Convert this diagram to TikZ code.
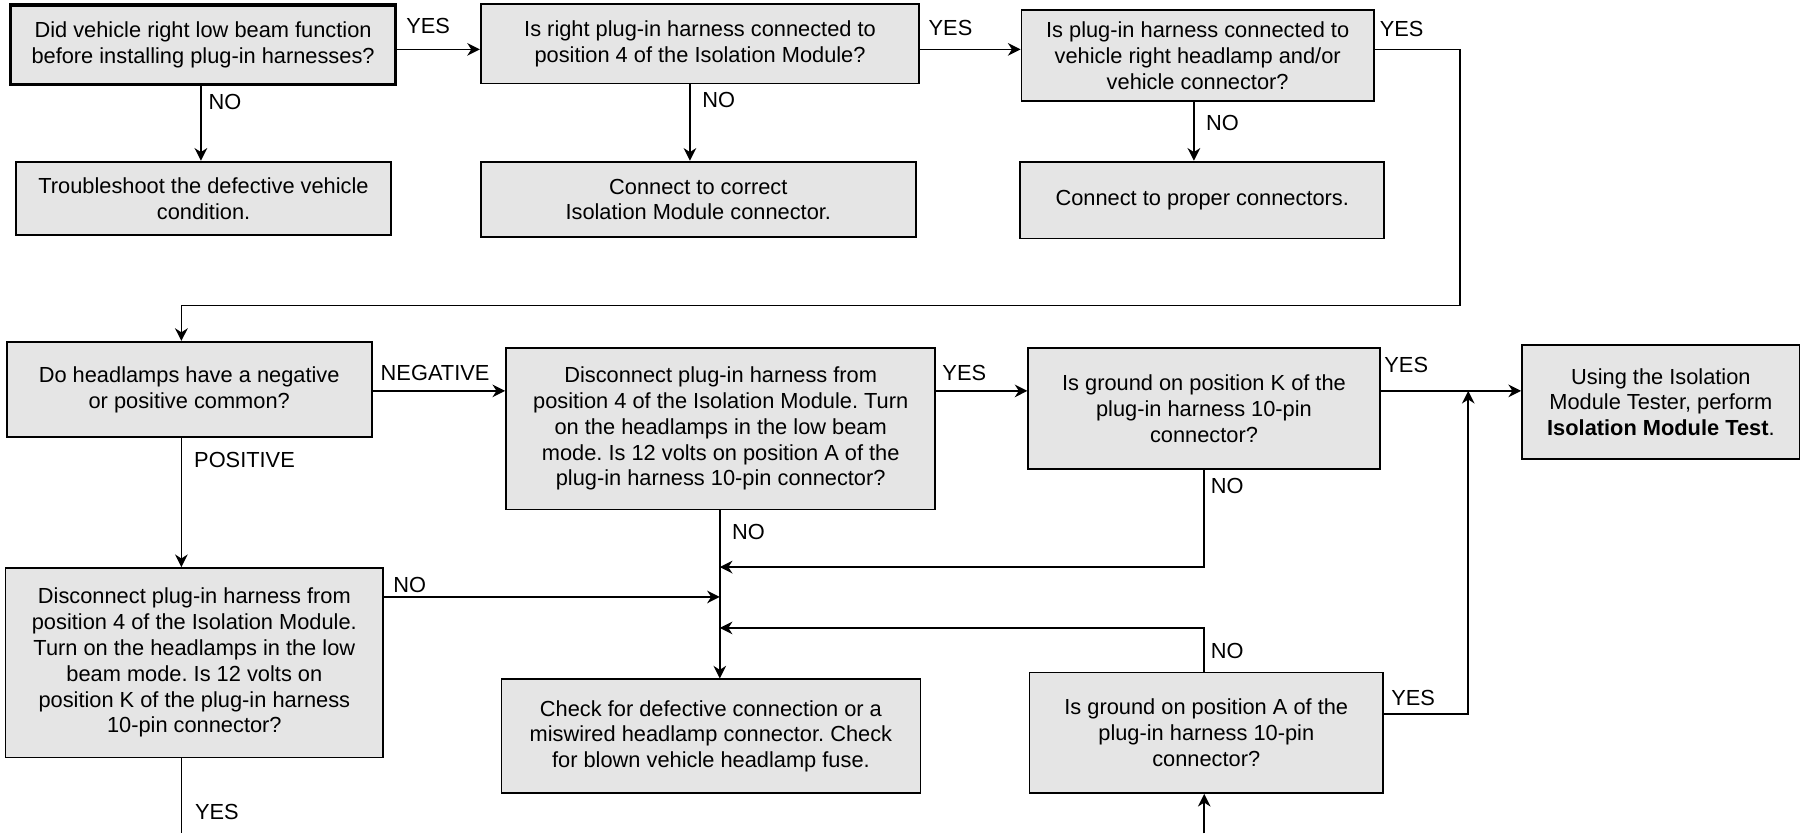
\documentclass[tikz,border=0pt]{standalone}
\usepackage{fontspec}
\setmainfont{Liberation Sans}
\usetikzlibrary{arrows.meta,calc}
\definecolor{boxgray}{RGB}{229,229,229}
\frenchspacing
\begin{document}
\begin{tikzpicture}[x=1pt,y=-1pt,
  box/.style={draw=black, line width=1.6pt, fill=boxgray, align=center, inner sep=0pt,
    anchor=north west, font=\fontsize{19}{22.5}\selectfont},
  thickbox/.style={box, line width=2.8pt},
  lbl/.style={font=\fontsize{19}{22.5}\selectfont, inner sep=0pt},
  conn/.style={line width=1.4pt, draw=black},
  arr/.style={conn, -{Stealth[length=11pt,width=11pt,inset=3.5pt]}},
]
\useasboundingbox (0,0) rectangle (1568,726);

% top row
\node[thickbox, minimum width=335pt, minimum height=69pt] (b1) at (8,3)
  {Did vehicle right low beam function\\before installing plug-in harnesses?};
\node[box, minimum width=382pt, minimum height=69pt] (b2) at (418,3)
  {Is right plug-in harness connected to\\position 4 of the Isolation Module?};
\node[box, minimum width=307pt, minimum height=79pt] (b3) at (889,8)
  {Is plug-in harness connected to\\vehicle right headlamp and/or\\vehicle connector?};
\node[box, minimum width=327pt, minimum height=64pt] (t1) at (13,140)
  {Troubleshoot the defective vehicle\\condition.};
\node[box, minimum width=379pt, minimum height=66pt] (t2) at (418,140)
  {Connect to correct\\Isolation Module connector.};
\node[box, minimum width=317pt, minimum height=67pt] (t3) at (888,140)
  {Connect to proper connectors.};

% second part
\node[box, minimum width=318pt, minimum height=83pt] (d1) at (5,297)
  {Do headlamps have a negative\\or positive common?};
\node[box, minimum width=374pt, minimum height=141pt] (d2) at (440,302)
  {Disconnect plug-in harness from\\position 4 of the Isolation Module. Turn\\on the headlamps in the low beam\\mode. Is 12 volts on position A of the\\plug-in harness 10-pin connector?};
\node[box, minimum width=306pt, minimum height=106pt] (d3) at (895,302)
  {Is ground on position K of the\\plug-in harness 10-pin\\connector?};
\node[box, minimum width=242pt, minimum height=99pt] (d4) at (1325,300)
  {Using the Isolation\\Module Tester, perform\\\textbf{Isolation Module Test}.};
\node[box, minimum width=329pt, minimum height=165pt] (k) at (4,494)
  {Disconnect plug-in harness from\\position 4 of the Isolation Module.\\Turn on the headlamps in the low\\beam mode. Is 12 volts on\\position K of the plug-in harness\\10-pin connector?};
\node[box, minimum width=365pt, minimum height=99pt] (c) at (436,591)
  {Check for defective connection or a\\miswired headlamp connector. Check\\for blown vehicle headlamp fuse.};
\node[box, minimum width=308pt, minimum height=105pt] (a) at (896,585)
  {Is ground on position A of the\\plug-in harness 10-pin\\connector?};

\coordinate (bl) at (158,726);
\coordinate (br) at (1049,726);

% connectors top
\draw[arr] (b1.east |- 0,43) -- (b2.west |- 0,43);
\draw[arr] (b2.east |- 0,43) -- (b3.west |- 0,43);
\draw[arr] (b1.south -| 175,0) -- (t1.north -| 175,0);
\draw[arr] (b2.south -| 601,0) -- (t2.north -| 601,0);
\draw[arr] (b3.south -| 1040,0) -- (t3.north -| 1040,0);
\draw[arr] (b3.east |- 0,43) -- (1272,43) -- (1272,266) -- (158,266) -- (d1.north -| 158,0);

% connectors bottom
\draw[arr] (d1.east |- 0,340.5) -- (d2.west |- 0,340.5);
\draw[arr] (d2.east |- 0,340.5) -- (d3.west |- 0,340.5);
\draw[arr] (d3.east |- 0,340.5) -- (d4.west |- 0,340.5);
\draw[arr] (d1.south -| 158,0) -- (k.north -| 158,0);
\draw[arr] (d2.south -| 627,0) -- (c.north -| 627,0);
\draw[arr] (k.east |- 0,520) -- (627,520);
\draw[arr] (d3.south -| 1049,0) -- (1049,494) -- (627,494);
\draw[arr] (a.north -| 1049,0) -- (1049,547) -- (627,547);
\draw[arr] (a.east |- 0,622) -- (1279,622) -- (1279,340.5);
\draw[conn] (k.south -| bl) -- (bl);
\draw[arr] (br) -- (a.south -| br);

% labels
\node[lbl] (y1) at (373,23) {YES};
\node[lbl] (y2) at (828,24) {YES};
\node[lbl] (y3) at (1221,25) {YES};
\node[lbl] (n1) at (196,89) {NO};
\node[lbl] (n2) at (626,87) {NO};
\node[lbl] (n3) at (1065,107) {NO};
\node[lbl] (neg) at (379,325) {NEGATIVE};
\node[lbl] (pos) at (213,401) {POSITIVE};
\node[lbl] (nk) at (357,510) {NO};
\node[lbl] (yb) at (189,707) {YES};
\node[lbl] (y4) at (840,325) {YES};
\node[lbl] (n4) at (652,463) {NO};
\node[lbl] (y5) at (1225,318) {YES};
\node[lbl] (n5) at (1069,423) {NO};
\node[lbl] (n6) at (1069,567) {NO};
\node[lbl] (y6) at (1231,608) {YES};
\end{tikzpicture}
\end{document}
